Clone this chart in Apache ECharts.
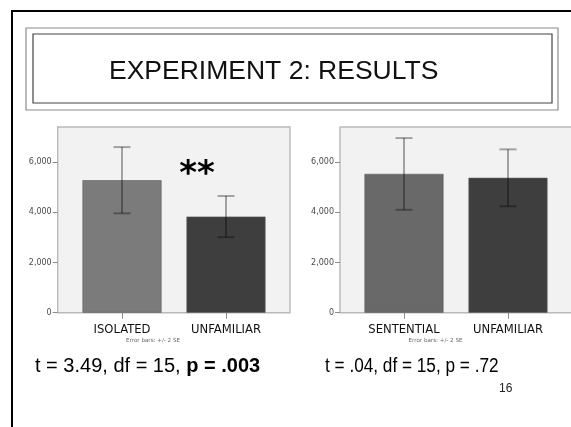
<!DOCTYPE html>
<html>
<head>
<meta charset="utf-8">
<script src="https://cdn.jsdelivr.net/npm/echarts@6/dist/echarts.min.js"></script>
<style>
  html, body { margin: 0; padding: 0; background: #ffffff; }
  #main { width: 571px; height: 427px; }
</style>
</head>
<body>
<div id="main"></div>
<script>
// Left panel: isolated vs unfamiliar words
const leftCategories = ['ISOLATED', 'UNFAMILIAR'];
const leftMeans = [5280, 3830];
const leftErrLow = [3960, 3010];
const leftErrHigh = [6600, 4650];
const leftColors = ['#7b7b7b', '#3e3e3e'];

// Right panel: sentential vs unfamiliar words
const rightCategories = ['SENTENTIAL', 'UNFAMILIAR'];
const rightMeans = [5530, 5375];
const rightErrLow = [4100, 4240];
const rightErrHigh = [6960, 6510];
const rightColors = ['#696969', '#3e3e3e'];

// Shared value axis
const yTicks = [0, 2000, 4000, 6000];
const yMax = 7400;

const statsLeft = 't = 3.49, df = 15, ';
const statsLeftBold = 'p = .003';
const statsRight = 't = .04, df = 15, p = .72';
const slideNumber = '16';
const errorNote = 'Error bars: +/- 2 SE';

const chart = echarts.init(document.getElementById('main'), null, { renderer: 'canvas' });

function fmt(v) { return v.toLocaleString('en-US'); }

function yAxisFor(gridIndex, offset) {
  return {
    type: 'value', gridIndex: gridIndex, min: 0, max: yMax, offset: offset,
    splitLine: { show: false },
    axisLine: { show: false },
    axisTick: { show: true, length: 5, customValues: yTicks, lineStyle: { color: '#8a8a8a', width: 1 } },
    axisLabel: { customValues: yTicks, formatter: fmt, margin: 6, color: '#4a4a4a',
                 fontSize: 8, fontFamily: 'DejaVu Sans' }
  };
}

function xAxisFor(gridIndex, cats) {
  return {
    type: 'category', gridIndex: gridIndex, data: cats,
    axisLine: { show: false },
    axisTick: { show: true, alignWithLabel: true, length: 6, lineStyle: { color: '#8a8a8a', width: 1 } },
    axisLabel: { margin: 11, color: '#111111', fontSize: 11.6, fontFamily: 'DejaVu Sans' }
  };
}

function barSeries(idx, means, colors) {
  return {
    type: 'bar', xAxisIndex: idx, yAxisIndex: idx, barWidth: 79, z: 2,
    data: means.map((v, i) => ({ value: v, itemStyle: { color: colors[i], borderColor: '#5a5a5a', borderWidth: 0.6 } }))
  };
}

function errorSeries(idx, lows, highs) {
  return {
    type: 'custom', xAxisIndex: idx, yAxisIndex: idx, z: 5,
    data: lows.map((lo, i) => [i, lo, highs[i]]),
    renderItem: function (params, api) {
      const top = api.coord([api.value(0), api.value(2)]);
      const bot = api.coord([api.value(0), api.value(1)]);
      const half = 8.5;
      const style = { stroke: 'rgba(0,0,0,0.33)', lineWidth: 2 };
      return {
        type: 'group',
        children: [
          { type: 'line', shape: { x1: top[0], y1: top[1], x2: bot[0], y2: bot[1] }, style: style },
          { type: 'line', shape: { x1: top[0] - half, y1: top[1], x2: top[0] + half, y2: top[1] }, style: style },
          { type: 'line', shape: { x1: bot[0] - half, y1: bot[1], x2: bot[0] + half, y2: bot[1] }, style: style }
        ]
      };
    }
  };
}

const plotTop = 127;
const plotBottom = 312.7;

chart.setOption({
  animation: false,
  backgroundColor: '#ffffff',
  grid: [
    { left: 70, width: 208, top: plotTop, height: plotBottom - plotTop },
    { left: 352, width: 208, top: plotTop, height: plotBottom - plotTop }
  ],
  xAxis: [xAxisFor(0, leftCategories), xAxisFor(1, rightCategories)],
  yAxis: [yAxisFor(0, 12.3), yAxisFor(1, 12)],
  series: [
    barSeries(0, leftMeans, leftColors),
    errorSeries(0, leftErrLow, leftErrHigh),
    barSeries(1, rightMeans, rightColors),
    errorSeries(1, rightErrLow, rightErrHigh)
  ],
  graphic: [
    // slide outline
    { type: 'rect', z: -20, shape: { x: 12, y: 11, width: 620, height: 500 },
      style: { fill: '#ffffff', stroke: '#000000', lineWidth: 2 } },
    // title box (double frame)
    { type: 'rect', z: -15, shape: { x: 26, y: 28, width: 532, height: 82 },
      style: { fill: 'none', stroke: '#8c8c8c', lineWidth: 1.2 } },
    { type: 'rect', z: -15, shape: { x: 33, y: 34, width: 519, height: 69 },
      style: { fill: 'none', stroke: '#444444', lineWidth: 1.2 } },
    { type: 'text', z: -14, x: 109, y: 72,
      style: { text: 'EXPERIMENT 2: RESULTS', fill: '#111111', fontSize: 26.5,
               fontFamily: 'Liberation Sans', align: 'left', verticalAlign: 'middle' } },
    // plot frames
    { type: 'rect', z: -10, shape: { x: 57.7, y: plotTop, width: 232.3, height: plotBottom - plotTop },
      style: { fill: '#f2f2f2', stroke: '#b9b9b9', lineWidth: 1.4 } },
    { type: 'rect', z: -10, shape: { x: 340, y: plotTop, width: 232.3, height: plotBottom - plotTop },
      style: { fill: '#f2f2f2', stroke: '#b9b9b9', lineWidth: 1.4 } },
    // significance marker
    { type: 'text', z: 10, x: 197, y: 175,
      style: { text: '**', fill: '#000000', fontSize: 34, fontWeight: 'bold',
               fontFamily: 'DejaVu Sans', align: 'center', verticalAlign: 'middle' } },
    // error bar notes
    { type: 'text', x: 153, y: 341,
      style: { text: errorNote, fill: '#666666', fontSize: 5.6, fontFamily: 'DejaVu Sans',
               align: 'center', verticalAlign: 'middle' } },
    { type: 'text', x: 435.5, y: 341,
      style: { text: errorNote, fill: '#666666', fontSize: 5.6, fontFamily: 'DejaVu Sans',
               align: 'center', verticalAlign: 'middle' } },
    // test statistics
    { type: 'text', x: 35, y: 366,
      style: { text: statsLeft + '{b|' + statsLeftBold + '}', fill: '#000000', fontSize: 20,
               fontFamily: 'Liberation Sans', verticalAlign: 'middle',
               rich: { b: { fontWeight: 'bold', fontSize: 20, fontFamily: 'Liberation Sans', fill: '#000000' } } } },
    { type: 'text', x: 325, y: 366, scaleX: 0.86, originX: 0,
      style: { x: 0, text: statsRight, fill: '#000000', fontSize: 20,
               fontFamily: 'Liberation Sans', verticalAlign: 'middle' } },
    { type: 'text', x: 499, y: 389,
      style: { text: slideNumber, fill: '#222222', fontSize: 12,
               fontFamily: 'Liberation Sans', verticalAlign: 'middle' } }
  ]
});
</script>
</body>
</html>
